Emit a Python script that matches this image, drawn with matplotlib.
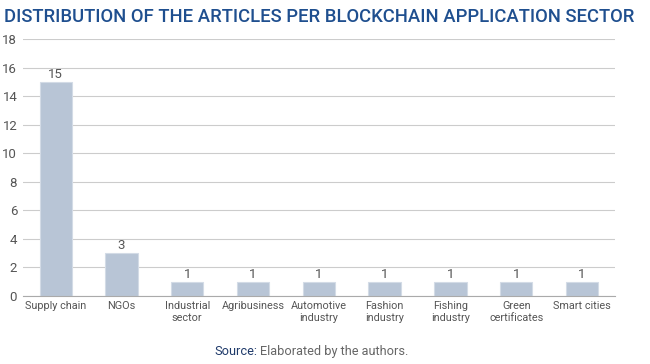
import matplotlib
matplotlib.use("Agg")
import matplotlib.pyplot as plt
import numpy as np

plt.rcParams['font.family'] = ['Roboto', 'DejaVu Sans']

sectors = ['Supply chain', 'NGOs', 'Industrial\nsector', 'Agribusiness',
           'Automotive\nindustry', 'Fashion\nindustry', 'Fishing\nindustry',
           'Green\ncertificates', 'Smart cities']
articles = [15, 3, 1, 1, 1, 1, 1, 1, 1]
yticks = [0, 2, 4, 6, 8, 10, 12, 14, 16, 18]

fig = plt.figure(figsize=(6.5, 3.64), dpi=100)
ax = fig.add_axes([0.035, 0.187, 0.911, 0.706])

x = np.arange(len(sectors))
ax.bar(x, articles, width=0.49, color='#b8c5d6', edgecolor='#d3dbe6', linewidth=0.8, zorder=3)
for xi, v in zip(x, articles):
    ax.text(xi, v + 0.05, str(v), ha='center', va='bottom', fontsize=9.5, color='#555555')

ax.set_xlim(-0.5, len(sectors) - 0.5)
ax.set_ylim(0, 18)
ax.set_yticks(yticks)
ax.set_xticks(x)
ax.set_xticklabels(sectors, fontsize=7.8, color='#555555', linespacing=1.15)
ax.tick_params(axis='y', labelsize=9.5, labelcolor='#555555', length=0, pad=4)
ax.tick_params(axis='x', length=0, pad=4)
ax.grid(axis='y', color='#cccccc', linewidth=0.8, zorder=0)
for s in ['top', 'right', 'left']:
    ax.spines[s].set_visible(False)
ax.spines['bottom'].set_color('#aaaaaa')
ax.spines['bottom'].set_zorder(4)

fig.text(0.006, 0.978, 'DISTRIBUTION OF THE ARTICLES PER BLOCKCHAIN APPLICATION SECTOR',
         fontsize=13.3, fontweight='medium', color='#1f4f8f', va='top', ha='left')
fig.text(0.396, 0.033, 'Source:', fontsize=9.2, color='#1f3a6a', ha='right', va='center')
fig.text(0.400, 0.033, 'Elaborated by the authors.', fontsize=9.2, color='#666666', ha='left', va='center')

fig.savefig('out.png', dpi=100)
